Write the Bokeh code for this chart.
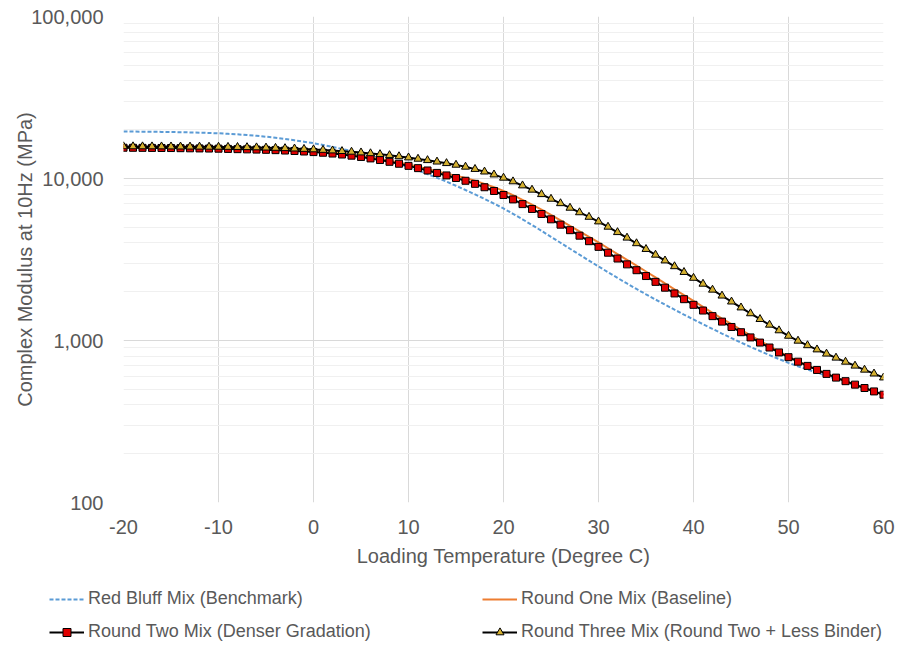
from bokeh.plotting import figure
from bokeh.layouts import column
from bokeh.models import Range1d, FixedTicker, NumeralTickFormatter, Legend, LegendItem
from bokeh.embed import file_html
from bokeh.resources import INLINE

# ---------------- data ----------------
temps = list(range(-20, 61))

red_bluff = [19498, 19480, 19458, 19431, 19400, 19364, 19311, 19249, 19178, 19099,
             19011, 18880, 18724, 18544, 18341, 18113, 17832, 17531, 17211, 16874,
             16520, 16106, 15675, 15227, 14764, 14289, 13791, 13283, 12773, 12263,
             11749, 11207, 10653, 10104, 9561, 9016, 8492, 7980, 7482, 6998,
             6531, 6053, 5598, 5164, 4753, 4365, 4011, 3685, 3386, 3114,
             2864, 2640, 2435, 2249, 2080, 1928, 1790, 1665, 1550, 1445,
             1349, 1260, 1179, 1104, 1034, 971, 913, 861, 813, 768,
             728, 693, 662, 632, 605, 578, 553, 530, 507, 485,
             465]

round_one = [15560, 15546, 15531, 15517, 15503, 15488, 15467, 15445, 15424, 15403,
             15382, 15339, 15297, 15255, 15213, 15171, 15108, 15031, 14941, 14838,
             14723, 14598, 14441, 14253, 14035, 13788, 13515, 13216, 12895, 12552,
             12190, 11825, 11458, 11089, 10720, 10400, 10060, 9680, 9270, 8840,
             8390, 7891, 7387, 6893, 6421, 5953, 5519, 5103, 4722, 4367,
             4030, 3711, 3418, 3146, 2897, 2667, 2451, 2251, 2071, 1905,
             1754, 1612, 1483, 1366, 1261, 1165, 1076, 996, 922, 856,
             796, 745, 701, 660, 623, 590, 560, 533, 507, 484,
             461]

round_two = [15488, 15474, 15460, 15445, 15431, 15417, 15389, 15360, 15332, 15304,
             15276, 15227, 15178, 15129, 15080, 15031, 14962, 14880, 14784, 14676,
             14555, 14421, 14256, 14060, 13836, 13583, 13305, 13002, 12677, 12331,
             11967, 11588, 11207, 10827, 10447, 10069, 9683, 9268, 8831, 8375,
             7907, 7430, 6950, 6486, 6039, 5598, 5188, 4797, 4436, 4102,
             3784, 3483, 3206, 2951, 2716, 2500, 2301, 2118, 1952, 1799,
             1660, 1531, 1414, 1308, 1212, 1125, 1045, 971, 905, 844,
             789, 740, 697, 658, 622, 590, 561, 534, 509, 485,
             463]

round_three = [15776, 15768, 15761, 15754, 15746, 15739, 15725, 15710, 15696, 15681,
               15667, 15645, 15616, 15580, 15537, 15488, 15431, 15364, 15286, 15199,
               15101, 14990, 14870, 14741, 14602, 14454, 14289, 14106, 13907, 13691,
               13459, 13213, 12957, 12692, 12417, 12134, 11803, 11429, 11015, 10568,
               10093, 9583, 9046, 8511, 7990, 7482, 7024, 6585, 6174, 5788,
               5420, 5028, 4656, 4305, 3976, 3664, 3378, 3112, 2868, 2642,
               2432, 2236, 2055, 1889, 1736, 1596, 1469, 1354, 1249, 1153,
               1067, 995, 933, 879, 828, 782, 738, 698, 659, 624,
               590]

series_labels = ["Red Bluff Mix (Benchmark)", "Round One Mix (Baseline)",
                 "Round Two Mix (Denser Gradation)",
                 "Round Three Mix (Round Two + Less Binder)"]

x_ticks = [-20, -10, 0, 10, 20, 30, 40, 50, 60]
y_ticks = [100, 1000, 10000, 100000]
y_minor = [m * 10 ** e for e in (2, 3, 4) for m in range(2, 10)]

x_title = "Loading Temperature (Degree C)"
y_title = "Complex Modulus at 10Hz (MPa)"

# ---------------- styling constants ----------------
FONT = "Liberation Sans"
TXT = "#595959"
C_BLUE = "#5b9bd5"
C_ORANGE = "#ed7d31"
C_RED = "#e00000"
C_GOLD = "#d4b030"

# ---------------- main chart ----------------
p = figure(width=899, height=575,
           x_range=Range1d(-20, 60), y_range=Range1d(100, 100000),
           y_axis_type="log", output_backend="svg", toolbar_location=None,
           min_border_left=123, min_border_right=16, min_border_top=16,
           min_border_bottom=73)
p.outline_line_color = None
p.background_fill_color = "white"

p.xaxis.ticker = FixedTicker(ticks=x_ticks)
p.xaxis.formatter = NumeralTickFormatter(format="0")
p.yaxis.ticker = FixedTicker(ticks=y_ticks, minor_ticks=y_minor)
p.yaxis.formatter = NumeralTickFormatter(format="0,0")

for ax in (p.xaxis[0], p.yaxis[0]):
    ax.axis_line_color = None
    ax.major_tick_line_color = None
    ax.minor_tick_line_color = None
    ax.major_tick_out = 0
    ax.major_tick_in = 0
    ax.minor_tick_out = 0
    ax.minor_tick_in = 0
    ax.major_label_text_font = FONT
    ax.major_label_text_font_size = "20px"
    ax.major_label_text_color = TXT
    ax.axis_label_text_font = FONT
    ax.axis_label_text_font_size = "20px"
    ax.axis_label_text_color = TXT
    ax.axis_label_text_font_style = "normal"

p.xaxis.axis_label = x_title
p.yaxis.axis_label = y_title
p.xaxis.major_label_standoff = 17
p.xaxis.axis_label_standoff = 8
p.yaxis.major_label_standoff = 20
p.yaxis.axis_label_standoff = -8

p.xgrid.ticker = FixedTicker(ticks=x_ticks)
p.xgrid.grid_line_color = "#d9d9d9"
p.ygrid.ticker = FixedTicker(ticks=y_ticks, minor_ticks=y_minor)
p.ygrid.grid_line_color = "#d9d9d9"
p.ygrid.minor_grid_line_color = "#f0f0f0"

p.line(temps, red_bluff, line_color=C_BLUE, line_width=2, line_dash="4 2")
p.line(temps, round_one, line_color=C_ORANGE, line_width=2)
p.line(temps, round_two, line_color="black", line_width=2)
p.scatter(temps, round_two, marker="square", size=7,
          fill_color=C_RED, line_color="black", line_width=1)
p.line(temps, round_three, line_color="black", line_width=2)
p.scatter(temps, round_three, marker="triangle", size=8,
          fill_color=C_GOLD, line_color="black", line_width=1)

# ---------------- legend strip (separate figure below) ----------------
lf = figure(width=899, height=73, x_range=Range1d(0, 1), y_range=Range1d(0, 1),
            output_backend="svg", toolbar_location=None,
            x_axis_location=None, y_axis_location=None,
            min_border=0, min_border_left=0, min_border_right=0,
            min_border_top=0, min_border_bottom=0)
lf.outline_line_color = None
lf.grid.visible = False
for fig in (p, lf):
    try:
        fig.frame_align = False
    except Exception:
        pass

# legend key renderers: a single point placed outside the strip's visible range
kx, ky = [-5], [-5]
g_blue = lf.line(kx, ky, line_color=C_BLUE, line_width=2, line_dash="4 2")
g_orange = lf.line(kx, ky, line_color=C_ORANGE, line_width=2)
g_two_l = lf.line(kx, ky, line_color="black", line_width=2)
g_two_m = lf.scatter(kx, ky, marker="square", size=7,
                     fill_color=C_RED, line_color="black", line_width=1)
g_three_l = lf.line(kx, ky, line_color="black", line_width=2)
g_three_m = lf.scatter(kx, ky, marker="triangle", size=7,
                       fill_color=C_GOLD, line_color="black", line_width=1)


def make_legend(items, loc):
    return Legend(items=items, location=loc, orientation="vertical",
                  padding=0, margin=0, spacing=12,
                  glyph_width=35, glyph_height=20, label_height=20,
                  label_standoff=4,
                  label_text_font=FONT, label_text_font_size="18px",
                  label_text_color=TXT,
                  border_line_color=None, background_fill_alpha=0)


lf.add_layout(make_legend(
    [LegendItem(label=series_labels[0], renderers=[g_blue]),
     LegendItem(label=series_labels[2], renderers=[g_two_l, g_two_m])], (49, 6)))
lf.add_layout(make_legend(
    [LegendItem(label=series_labels[1], renderers=[g_orange]),
     LegendItem(label=series_labels[3], renderers=[g_three_l, g_three_m])], (482, 6)))

layout = column(p, lf, spacing=0)
open("out.html", "w").write(file_html(layout, INLINE))
